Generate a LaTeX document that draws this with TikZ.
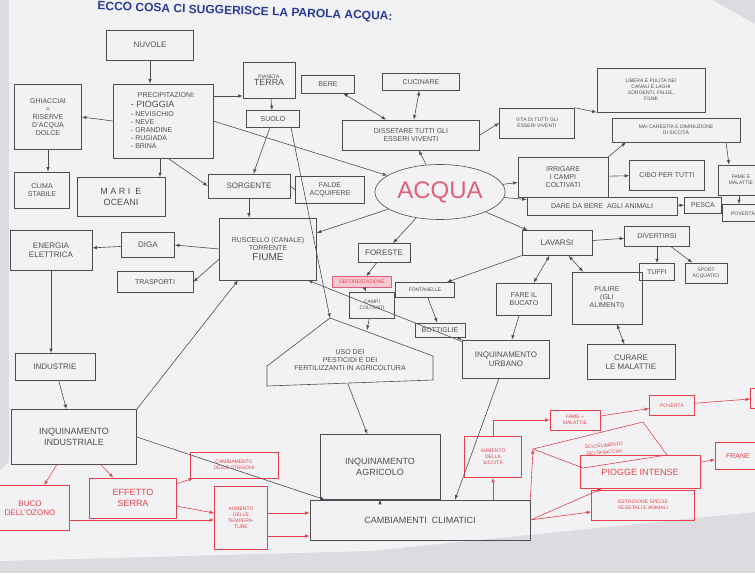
\documentclass[tikz,border=0pt]{standalone}
\usepackage{fontspec}
\setmainfont{Liberation Sans}
\usepackage{tikz}
\usetikzlibrary{calc}
\usetikzlibrary{arrows}
\usetikzlibrary{shapes.geometric}
\usetikzlibrary{positioning}
\definecolor{pencil}{HTML}{4E4E52}
\definecolor{redpen}{HTML}{E2434C}
\definecolor{pinkpen}{HTML}{E0607C}
\definecolor{paper}{HTML}{F2F2F4}
\definecolor{wall}{HTML}{DCDCE0}
\definecolor{bluepen}{HTML}{2A3A96}
\tikzset{link/.style={draw=pencil,line width=0.6pt,->}}

\begin{document}
\begin{tikzpicture}[x=1pt,y=-1pt,>=latex]
  % some styles
  \tikzset{
    box/.style={
      rectangle,
      draw=pencil,
      text=pencil,
      inner sep=1pt,
      align=center,
      font=\footnotesize,
      line width=0.6pt
    }
  }
  \tikzset{rbox/.style={box,draw=redpen,text=redpen}}
  \tikzset{rlink/.style={draw=redpen,line width=0.6pt,->}}
  \tikzset{both/.style={link,<->}}

\useasboundingbox (0,0) rectangle (755,573);
\clip (0,0) rectangle (755,573);
% the sheet on the wall
\fill[wall] (0,0) rectangle (755,573);
\fill[paper] (9,0) -- (712,0) -- (755,24) -- (755,512) -- (370,551) -- (0,561) -- (0,470) -- (9,462) -- cycle;

\node[text=bluepen,font=\large\bfseries,rotate=-2] (titolo) at (245,12) {ECCO COSA CI SUGGERISCE LA PAROLA ACQUA:};

% left part
\node[box,minimum width=100,minimum height=74,align=left,font=\scriptsize] (prec) at (163,121)
  {\quad PRECIPITAZIONI:\\[2pt]{\small - PIOGGIA}\\[1pt]- NEVISCHIO\\- NEVE\\- GRANDINE\\- RUGIADA\\- BRINA};
\node[box,minimum width=87,minimum height=30] (nuvole) at (150,45) {NUVOLE};
\node[box,minimum width=67,minimum height=65,font=\scriptsize] (ghiac) at (48,117) {GHIACCIAI\\=\\RISERVE\\D'ACQUA\\DOLCE};
\node[box,minimum width=55,minimum height=36,font=\scriptsize] (clima) at (42,190) {CLIMA\\STABILE};
\node[box,minimum width=88,minimum height=39,font=\small] (mari) at (121,197) {M A R I \ E\\OCEANI};
\node[box,minimum width=52,minimum height=36,font=\tiny] (terra) at (269,80) {PIANETA\\{\small TERRA}};
\node[box,minimum width=53,minimum height=17,font=\scriptsize] (suolo) at (273,119) {SUOLO};
\node[box,minimum width=82,minimum height=24] (sorg) at (249,186) {SORGENTE};
\node[box,minimum width=69,minimum height=27,font=\scriptsize] (falde) at (330,190) {FALDE\\ACQUIFERE};
\node[box,minimum width=97,minimum height=62,font=\scriptsize] (fiume) at (268,249) {RUSCELLO (CANALE)\\TORRENTE\\[2pt]{\normalsize FIUME}};
\node[box,minimum width=53,minimum height=25] (diga) at (148,245) {DIGA};
\node[box,minimum width=82,minimum height=40] (energia) at (51,250) {ENERGIA\\ELETTRICA};
\node[box,minimum width=76,minimum height=21,font=\scriptsize] (trasp) at (155,282) {TRASPORTI};
\node[box,minimum width=80,minimum height=27] (industrie) at (55,367) {INDUSTRIE};
\node[box,minimum width=125,minimum height=55,font=\small] (inqind) at (74,437) {INQUINAMENTO\\INDUSTRIALE};

% top and right part
\node[box,minimum width=53,minimum height=18,font=\scriptsize] (bere) at (328,84) {BERE};
\node[box,minimum width=77,minimum height=17,font=\scriptsize] (cucinare) at (421,82) {CUCINARE};
\node[box,minimum width=137,minimum height=30,font=\scriptsize] (disset) at (411,135) {DISSETARE TUTTI GLI\\ESSERI VIVENTI};
\node[box,minimum width=75,minimum height=30,font=\tiny] (vita) at (537,123) {VITA DI TUTTI GLI\\ESSERI VIVENTI};
\node[box,minimum width=108,minimum height=44,font=\tiny] (libera) at (651,90) {LIBERA E PULITA NEI\\CANALI E LAGHI\\SORGENTI, FALDE,\\FIUMI};
\node[box,minimum width=128,minimum height=24,font=\tiny] (mai) at (676,130) {MAI CARESTIA E DIMINUZIONE\\DI SICCITÀ};
\node[ellipse,draw=pencil,line width=0.6pt,minimum width=128,minimum height=55,text=pinkpen,font=\fontsize{24}{24}\selectfont] (acqua) at (440,192) {ACQUA};
\node[box,minimum width=90,minimum height=40,font=\scriptsize] (irrigare) at (563,177) {IRRIGARE\\I CAMPI\\COLTIVATI};
\node[box,minimum width=75,minimum height=30,font=\scriptsize] (cibo) at (667,175) {CIBO PER TUTTI};
\node[box,minimum width=46,minimum height=30,font=\tiny] (fame) at (741,180) {FAME E\\MALATTIE};
\node[box,minimum width=42,minimum height=17,font=\tiny] (povera) at (743,213) {POVERTÀ};
\node[box,minimum width=150,minimum height=18,font=\scriptsize] (dare) at (602,206) {DARE DA BERE \ AGLI ANIMALI};
\node[box,minimum width=37,minimum height=16,font=\scriptsize] (pesca) at (703,205) {PESCA};
\node[box,minimum width=70,minimum height=25] (lavarsi) at (557,243) {LAVARSI};
\node[box,minimum width=65,minimum height=20,font=\scriptsize] (divert) at (657,236) {DIVERTIRSI};
\node[box,minimum width=35,minimum height=17,font=\scriptsize] (tuffi) at (657,272) {TUFFI};
\node[box,minimum width=42,minimum height=20,font=\tiny] (sport) at (706,273) {SPORT\\ACQUATICI};
\node[box,minimum width=55,minimum height=32,font=\scriptsize] (bucato) at (524,299) {FARE IL\\BUCATO};
\node[box,minimum width=70,minimum height=52,font=\scriptsize] (pulire) at (607,298) {PULIRE\\(GLI\\ALIMENTI)};
\node[box,minimum width=88,minimum height=35] (curare) at (631,362) {CURARE\\LE MALATTIE};

% middle part
\node[box,minimum width=52,minimum height=19] (foreste) at (384,253) {FORESTE};
\node[box,minimum width=59,minimum height=11,font=\tiny,fill=pinkpen!35,draw=pinkpen,text=redpen] (defor) at (362,282) {DEFORESTAZIONE};
\node[box,minimum width=45,minimum height=26,font=\tiny] (campi) at (372,305) {CAMPI\\COLTIVATI};
\node[box,minimum width=59,minimum height=15,font=\tiny] (fontan) at (425,290) {FONTANELLE};
\node[box,minimum width=50,minimum height=14,font=\scriptsize] (bottig) at (440,330) {BOTTIGLIE};
\coordinate (usoA) at (330,318);
\coordinate (usoT) at (367,330);
\coordinate (usoB) at (348,384);
\draw[pencil,line width=0.6pt] (usoA) -- (433,356) -- (433,380) -- (267,386) -- (267,366) -- cycle;
\node[text=pencil,font=\scriptsize,align=center] (uso) at (350,360) {USO DEI\\PESTICIDI E DEI\\FERTILIZZANTI IN AGRICOLTURA};
\node[box,minimum width=87,minimum height=38] (urbano) at (506,359) {INQUINAMENTO\\URBANO};
\node[box,minimum width=120,minimum height=65,font=\small] (inqagr) at (380,467) {INQUINAMENTO\\AGRICOLO};
\node[box,minimum width=220,minimum height=40,font=\small] (clim) at (420,520) {CAMBIAMENTI \ CLIMATICI};

% red part
\node[rbox,minimum width=78,minimum height=45] (ozono) at (30,508) {BUCO\\DELL'OZONO};
\node[rbox,minimum width=87,minimum height=40,font=\small] (effetto) at (133,498) {EFFETTO\\SERRA};
\node[rbox,minimum width=88,minimum height=26,font=\tiny] (stag) at (234,465) {CAMBIAMENTO\\DELLE STAGIONI};
\node[rbox,minimum width=53,minimum height=63,font=\tiny] (aumT) at (241,518) {AUMENTO\\DELLE\\TEMPERA-\\TURE};
\node[rbox,minimum width=57,minimum height=41,font=\tiny] (sicc) at (493,457) {AUMENTO\\DELLA\\SICCITÀ};
\node[rbox,minimum width=50,minimum height=20,font=\tiny] (fame2) at (575,420) {FAME +\\MALATTIE};
\node[rbox,minimum width=45,minimum height=20,font=\tiny] (pover) at (672,405) {POVERTÀ};
\node[rbox,minimum width=25,minimum height=20] (rcut) at (763,398) {};
\coordinate (sciogA) at (533,449);
\draw[redpen,line width=0.6pt] (sciogA) -- (643,422) -- (667,455) -- (583,468) -- cycle;
\node[text=redpen,font=\tiny,align=center,rotate=5] (sciog) at (604,449) {SCIOGLIMENTO\\[1pt]DEI GHIACCIAI};
\node[rbox,minimum width=120,minimum height=33,font=\small] (piogge) at (640,472) {PIOGGE INTENSE};
\node[rbox,minimum width=45,minimum height=27,font=\scriptsize] (frane) at (738,456) {FRANE};
\node[rbox,minimum width=103,minimum height=30,font=\tiny] (estinz) at (643,505) {ESTINZIONE SPECIE\\VEGETALI E ANIMALI};

% black connectors
\draw[link] (nuvole) -- (nuvole |- prec.north);
\draw[link] (prec.west) -- (ghiac.east);
\draw[link] (ghiac) -- (ghiac |- clima.north);
\draw[link] ([xshift=-3]prec.south) -- ([xshift=-3]prec.south |- mari.north);
\draw[link] ([xshift=5]prec.south) -- (sorg.west);
\draw[link] ([yshift=25]prec.east) -- ([yshift=25]prec.east -| terra.west);
\draw[link] (prec.east) -- (acqua);
\draw[link] (terra) -- (suolo);
\draw[link] (suolo) -- (sorg);
\draw[link] ([xshift=18]suolo.south) -- (usoA);
\draw[pencil,line width=0.6pt] (sorg.east) -- (falde.west);
\draw[link] (sorg) -- (sorg |- fiume.north);
\draw[link] (acqua) -- (fiume);
\draw[link] (fiume.west) -- (diga.east);
\draw[link] (diga) -- (energia);
\draw[link] ([yshift=-10]fiume.west) -- (trasp.east);
\draw[link] (energia) -- (energia |- industrie.north);
\draw[link] (industrie) -- (inqind);
\draw[link] (inqind.north east) -- ([xshift=-30]fiume.south);
\draw[link] (inqind.east) -- ([xshift=-95]clim.north);
\draw[link] (acqua) -- (disset);
\draw[both] (bere) -- (disset);
\draw[both] (cucinare) -- (disset);
\draw[link] (disset.east) -- (vita.west);
\draw[link] (vita.north east) -- (libera.south west);
\draw[link] (acqua) -- (irrigare);
\draw[link] (irrigare.north east) -- ([xshift=-50]mai.south);
\draw[link] (irrigare) -- (cibo);
\draw[link] ([xshift=50]mai.south) -- ([xshift=-12]fame.north);
\draw[link] ([xshift=-2]fame.south) -- ([xshift=-4]povera.north);
\draw[link] (acqua) -- (dare);
\draw[link] (dare) -- (pesca);
\draw[link] (acqua) -- (lavarsi);
\draw[link] (lavarsi) -- (divert);
\draw[link] (divert) -- (tuffi);
\draw[link] (divert) -- (sport);
\draw[both] (lavarsi) -- (bucato);
\draw[both] (lavarsi) -- (pulire);
\draw[both] (pulire) -- (curare);
\draw[link] (lavarsi) -- (fontan);
\draw[link] (acqua) -- (foreste);
\draw[link] (foreste) -- (defor);
\draw[link] (defor) -- (campi);
\draw[link] (fontan) -- (bottig);
\draw[link] (bottig) -- (urbano);
\draw[link] (bucato) -- (urbano);
\draw[link] (campi) -- (usoT);
\draw[link] (usoB) -- (inqagr);
\draw[link] (urbano) -- ([xshift=40]fiume.south);
\draw[link] (urbano) -- ([xshift=35]clim.north);
\draw[link] (inqagr) -- (inqagr |- clim.north);

% red connectors
\draw[rlink] (inqind) -- (ozono);
\draw[rlink] (inqind) -- (effetto);
\draw[rlink] (effetto) -- (stag);
\draw[rlink] (effetto) -- (aumT);
\draw[rlink] ([yshift=-12]ozono.east) -- ([yshift=-12]ozono.east -| aumT.west);
\draw[rlink] ([yshift=5]aumT.east) -- ([yshift=5]aumT.east -| clim.west);
\draw[rlink] ([yshift=-18]aumT.east) -- ([yshift=-18]aumT.east -| clim.west);
\draw[rlink] (clim.north -| sicc) -- (sicc);
\draw[rlink] (sicc.north) |- (fame2.west);
\draw[rlink] (fame2) -- (pover);
\draw[rlink] (pover) -- (rcut);
\draw[rlink] (clim.north east) -- (sciogA);
\draw[rlink] (clim.east) -- (piogge);
\draw[rlink] (clim.east) -- (estinz);
\draw[rlink] (piogge) -- (frane);
\end{tikzpicture}
\end{document}
